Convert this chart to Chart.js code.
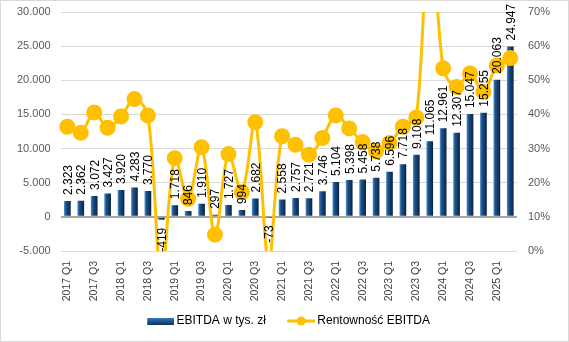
<!DOCTYPE html>
<html lang="pl">
<head>
<meta charset="utf-8">
<script src="https://cdn.jsdelivr.net/npm/chart.js@4/dist/chart.umd.min.js"></script>
<style>
  html, body { margin: 0; padding: 0; background: #fff; }
  #wrap { width: 569px; height: 342px; box-sizing: border-box; border: 1px solid #d9d9d9; position: relative; }
  canvas { display: block; }
</style>
</head>
<body>
<div id="wrap"><canvas id="chart"></canvas></div>
<script>
const QUARTERS = [
  '2017 Q1', '2017 Q2', '2017 Q3', '2017 Q4',
  '2018 Q1', '2018 Q2', '2018 Q3', '2018 Q4',
  '2019 Q1', '2019 Q2', '2019 Q3', '2019 Q4',
  '2020 Q1', '2020 Q2', '2020 Q3', '2020 Q4',
  '2021 Q1', '2021 Q2', '2021 Q3', '2021 Q4',
  '2022 Q1', '2022 Q2', '2022 Q3', '2022 Q4',
  '2023 Q1', '2023 Q2', '2023 Q3', '2023 Q4',
  '2024 Q1', '2024 Q2', '2024 Q3', '2024 Q4',
  '2025 Q1', '2025 Q2'
];

// EBITDA w tys. zł
const EBITDA = [
  2323, 2362, 3072, 3427, 3920, 4283, 3770, -419,
  1718, 846, 1910, 297, 1727, 994, 2682, -73,
  2558, 2757, 2721, 3746, 5104, 5398, 5458, 5738,
  6596, 7718, 9108, 11065, 12961, 12307, 15047, 15255,
  20063, 24947
];

// Rentowność EBITDA w % (punkty poza skalą szacunkowo)
const MARGIN = [
  36.4, 34.6, 40.6, 36.1, 39.4, 44.5, 39.7, -8,
  27.2, 15.3, 30.4, 4.8, 28.4, 17.2, 37.7, -3,
  33.6, 31.1, 28.2, 33.1, 39.7, 35.9, 31.9, 29.2,
  31.6, 36.4, 39.1, 100, 53.5, 48.0, 52.0, 46.6,
  54.3, 56.5
];

const LEFT_MIN = -5000, LEFT_MAX = 30000, LEFT_STEP = 5000;
const RIGHT_MIN = 0, RIGHT_MAX = 70, RIGHT_STEP = 10;

const FONT = '"Liberation Sans", Arial, sans-serif';
const GOLD = '#ffc000';

Chart.defaults.font.family = FONT;

function fmt(v) {
  const s = Math.abs(Math.round(v)).toString().replace(/\B(?=(\d{3})+(?!\d))/g, '.');
  return (v < 0 ? '-' : '') + s;
}

function barGradient(ctx, x0, x1) {
  const g = ctx.createLinearGradient(x0, 0, x1, 0);
  g.addColorStop(0, '#4f93d2');
  g.addColorStop(0.3, '#1c5189');
  g.addColorStop(1, '#0a2341');
  return g;
}

// ikony legendy (treść dosunięta do prawej, żeby tekst był blisko ikony)
const ICON_W = 40;
function makeBarIcon() {
  const c = document.createElement('canvas');
  c.width = ICON_W; c.height = 7;
  const x = c.getContext('2d');
  const g = x.createLinearGradient(0, 0, 0, 7);
  g.addColorStop(0, '#3b7fc2');
  g.addColorStop(1, '#0f3560');
  x.fillStyle = g;
  x.fillRect(ICON_W - 27, 0, 27, 7);
  return c;
}
function makeLineIcon() {
  const c = document.createElement('canvas');
  c.width = ICON_W; c.height = 10;
  const x = c.getContext('2d');
  const x0 = ICON_W - 28;
  x.strokeStyle = GOLD;
  x.lineWidth = 3;
  x.beginPath(); x.moveTo(x0, 5); x.lineTo(ICON_W, 5); x.stroke();
  x.fillStyle = GOLD;
  x.beginPath(); x.arc(x0 + 14, 5, 4.5, 0, Math.PI * 2); x.fill();
  return c;
}
const legendIcons = [makeBarIcon(), makeLineIcon()];

// etykiety wartości nad słupkami (pionowe)
const barLabels = {
  id: 'barLabels',
  afterDatasetsDraw(chart) {
    const ctx = chart.ctx;
    const meta = chart.getDatasetMeta(1);
    ctx.save();
    ctx.font = '12px ' + FONT;
    ctx.fillStyle = '#000';
    ctx.textBaseline = 'middle';
    meta.data.forEach((bar, i) => {
      const v = EBITDA[i];
      ctx.save();
      ctx.translate(bar.x + 1, v >= 0 ? bar.y - 6 : bar.y + 8);
      ctx.rotate(-Math.PI / 2);
      ctx.textAlign = v >= 0 ? 'left' : 'right';
      ctx.fillText(fmt(v), 0, 0);
      ctx.restore();
    });
    ctx.restore();
  }
};

function tightTop(scale) { scale.paddingTop = 6; }

new Chart(document.getElementById('chart'), {
  data: {
    labels: QUARTERS,
    datasets: [
      {
        type: 'line',
        label: 'Rentowność EBITDA',
        data: MARGIN,
        yAxisID: 'y1',
        borderColor: GOLD,
        backgroundColor: GOLD,
        borderWidth: 3,
        pointRadius: 6.5,
        pointHoverRadius: 6.5,
        pointBackgroundColor: GOLD,
        pointBorderColor: GOLD,
        tension: 0.35,
        order: 1
      },
      {
        type: 'bar',
        label: 'EBITDA w tys. zł',
        data: EBITDA,
        yAxisID: 'y',
        barPercentage: 0.5,
        categoryPercentage: 1,
        backgroundColor(c) {
          const chart = c.chart;
          const xs = chart.scales.x;
          if (!xs || !chart.chartArea) return '#123f6b';
          const cx = xs.getPixelForValue(c.dataIndex);
          const w = (xs.right - xs.left) / QUARTERS.length * 0.5;
          return barGradient(chart.ctx, cx - w / 2, cx + w / 2);
        },
        order: 2
      }
    ]
  },
  options: {
    responsive: true,
    maintainAspectRatio: false,
    animation: false,
    layout: { padding: { left: 6, right: 7, top: 11, bottom: 4 } },
    plugins: {
      legend: {
        position: 'bottom',
        reverse: true,
        labels: {
          usePointStyle: true,
          pointStyleWidth: 32.5,
          padding: 13,
          color: '#000',
          font: { size: 12 },
          generateLabels(chart) {
            const items = Chart.defaults.plugins.legend.labels.generateLabels(chart);
            items.forEach(it => { it.pointStyle = legendIcons[it.datasetIndex === 1 ? 0 : 1]; });
            return items;
          }
        }
      },
      tooltip: { enabled: false }
    },
    scales: {
      x: {
        offset: true,
        grid: { display: false, drawTicks: false },
        border: { display: false },
        afterFit(scale) { scale.height = 51; },
        ticks: {
          autoSkip: false,
          minRotation: 90,
          maxRotation: 90,
          padding: 10,
          color: '#404040',
          font: { size: 10.5 },
          callback(v, i) { return i % 2 === 0 ? QUARTERS[i] : ''; }
        }
      },
      y: {
        position: 'left',
        min: LEFT_MIN,
        max: LEFT_MAX,
        border: { display: false },
        afterFit: tightTop,
        grid: {
          drawTicks: false,
          color: c => c.tick.value === 0 ? '#a6a6a6' : '#d9d9d9',
          lineWidth: c => c.tick.value === 0 ? 2 : 1
        },
        ticks: {
          stepSize: LEFT_STEP,
          padding: 10,
          color: '#595959',
          font: { size: 11 },
          callback: v => fmt(v)
        }
      },
      y1: {
        position: 'right',
        min: RIGHT_MIN,
        max: RIGHT_MAX,
        border: { display: false },
        afterFit: tightTop,
        grid: { display: false, drawTicks: false },
        ticks: {
          stepSize: RIGHT_STEP,
          padding: 11,
          color: '#595959',
          font: { size: 11 },
          callback: v => v + '%'
        }
      }
    }
  },
  plugins: [barLabels]
});
</script>
</body>
</html>
